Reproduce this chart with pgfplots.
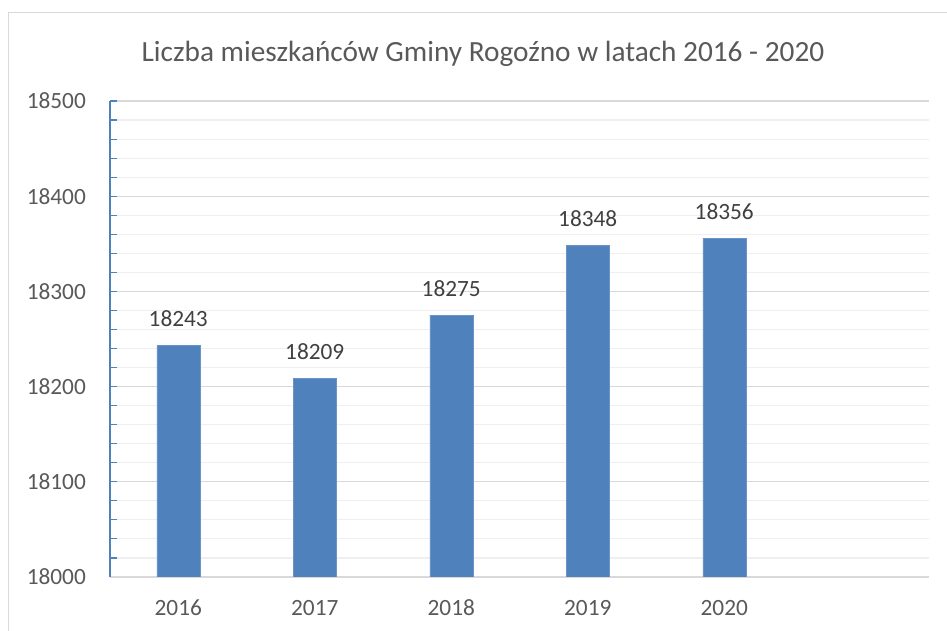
\documentclass[border=0pt]{standalone}
\usepackage{fontspec}
\setmainfont{Carlito}
\usepackage{pgfplots}
\pgfplotsset{compat=1.18}
\definecolor{BarBlue}{HTML}{4F81BD}
\definecolor{TxtGray}{HTML}{595959}
\definecolor{LblGray}{HTML}{404040}
\definecolor{GridMaj}{HTML}{D9D9D9}
\definecolor{GridMin}{HTML}{EFEFEF}

\begin{document}
\begin{tikzpicture}[x=1pt,y=1pt]
  \path[use as bounding box] (0,0) rectangle (947,631);
  % outer chart frame (cut at right and bottom in the reference)
  \draw[GridMaj, line width=1.6pt] (8.5,0) -- (8.5,618.5) -- (947,618.5);
  \begin{axis}[
    at={(110pt,54pt)}, anchor=south west,
    scale only axis, width=819pt, height=476pt,
    ybar, bar width=43pt,
    xmin=-0.5, xmax=5.5, ymin=18000, ymax=18500,
    xtick={0,1,2,3,4}, xticklabels={2016,2017,2018,2019,2020},
    ytick={18000,18100,...,18500},
    scaled y ticks=false,
    minor y tick num=4,
    ymajorgrids, yminorgrids,
    major grid style={GridMaj, line width=1.1pt},
    minor grid style={GridMin, line width=1.1pt},
    axis x line*=bottom, axis y line*=left,
    x axis line style={GridMaj, line width=1.3pt},
    y axis line style={BarBlue, line width=1.3pt},
    tick align=inside,
    major tick length=7pt, minor tick length=7pt,
    ytick style={BarBlue, line width=1.1pt},
    xtick style={draw=none},
    /pgf/number format/assume math mode=true,
    /pgf/number format/1000 sep={},
    yticklabel style={font=\fontsize{23.3}{28}\selectfont, text=TxtGray, inner sep=0pt, xshift=-24pt},
    xticklabel style={font=\fontsize{23.3}{28}\selectfont, text=TxtGray, inner sep=0pt, anchor=base, yshift=-39pt},
    nodes near coords,
    every node near coord/.append style={font=\fontsize{23.3}{28}\selectfont, text=LblGray, anchor=base, inner sep=0pt, yshift=19pt},
  ]
    \addplot[fill=BarBlue, draw=BarBlue!85!white] coordinates {
      (0,18243) (1,18209) (2,18275) (3,18348) (4,18356)
    };
  \end{axis}
  \node[anchor=base, inner sep=0pt, text=TxtGray, font=\fontsize{29.3}{34}\selectfont]
    at (483,569.5) {Liczba mieszkańców Gminy Rogoźno w latach 2016 - 2020};
\end{tikzpicture}
\end{document}
